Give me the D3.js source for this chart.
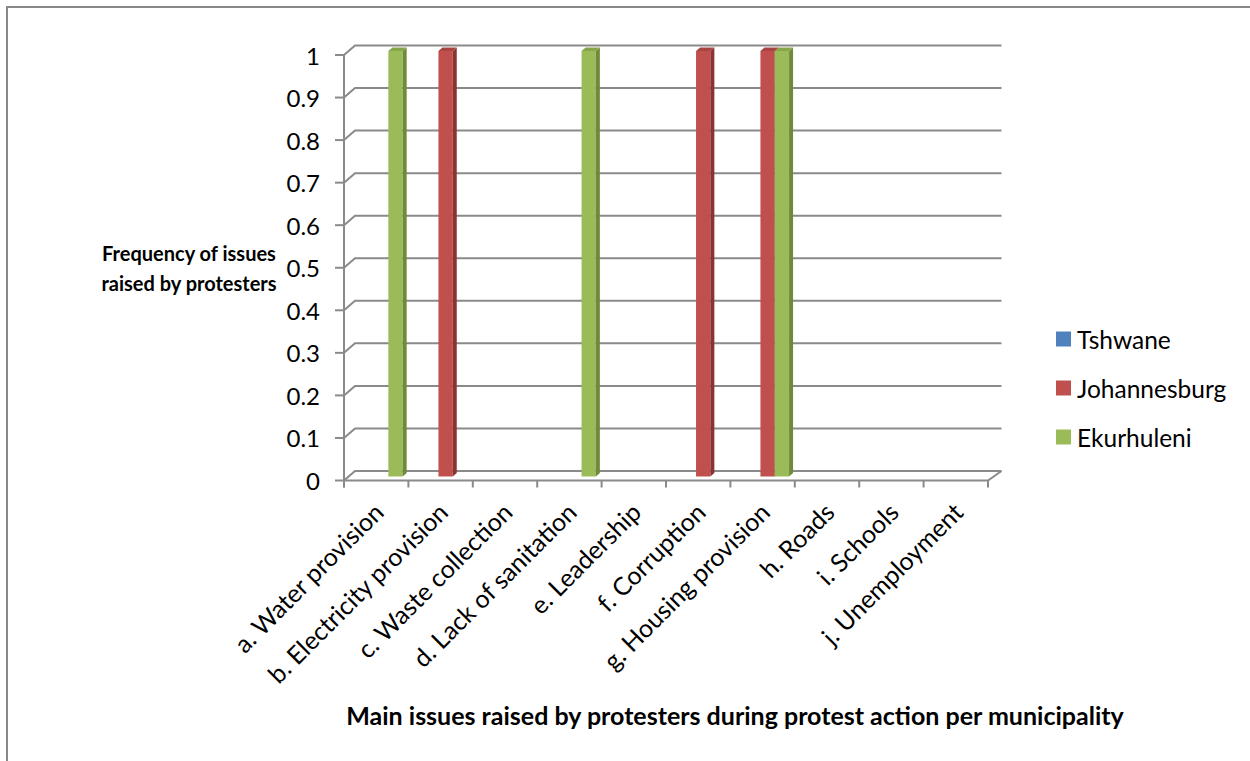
<!DOCTYPE html>
<html>
<head>
<meta charset="utf-8">
<script src="https://cdn.jsdelivr.net/npm/d3@7"></script>
<style>
  html, body { margin: 0; padding: 0; background: #fff; }
  svg { display: block; }
  text { font-family: Lato, "Open Sans", sans-serif; fill: #000; }
</style>
</head>
<body>
<svg id="chart" width="1250" height="761"></svg>
<script>
// Issues raised by protesters, per municipality
const categories = [
  "a. Water provision", "b. Electricity provision", "c. Waste collection",
  "d. Lack of sanitation", "e. Leadership", "f. Corruption",
  "g. Housing provision", "h. Roads", "i. Schools", "j. Unemployment"
];
const seriesNames = ["Tshwane", "Johannesburg", "Ekurhuleni"];
const tshwane      = [0, 0, 0, 0, 0, 0, 0, 0, 0, 0];
const johannesburg = [0, 1, 0, 0, 0, 1, 1, 0, 0, 0];
const ekurhuleni   = [1, 0, 0, 1, 0, 0, 1, 0, 0, 0];
const yTicks = [0, 0.1, 0.2, 0.3, 0.4, 0.5, 0.6, 0.7, 0.8, 0.9, 1];
const yTitle = ["Frequency of issues", "raised by protesters"];
const xTitle = "Main issues raised by protesters during protest action per municipality";

const seriesValues = [tshwane, johannesburg, ekurhuleni];
const palette = {
  Tshwane:      { front: "#4F81BD", side: "#3A6190", top: "#4674AB" },
  Johannesburg: { front: "#C0504D", side: "#8C3331", top: "#A84543" },
  Ekurhuleni:   { front: "#9BBB59", side: "#6F8B3A", top: "#87A64A" }
};

const svg = d3.select("#chart");
const gridColor = "#8a8a8a";

// outer chart border
svg.append("rect")
  .attr("x", 7).attr("y", 7).attr("width", 1270).attr("height", 780)
  .attr("fill", "none").attr("stroke", "#888").attr("stroke-width", 2);

// front plane scales
const x = d3.scaleBand().domain(categories).range([344, 988]).paddingInner(0).paddingOuter(0);
const y = d3.scaleLinear().domain([0, 1]).range([480.5, 55]);
// back wall projection
const backX = d3.scaleLinear().domain([344, 988]).range([355, 1001.5]);
const backDy = -9.5;

const sub = d3.scaleBand().domain(seriesNames).range([0, x.bandwidth()])
  .paddingInner(0).paddingOuter(0.75);

// walls: gridlines on the back wall with their side-wall diagonals
const grid = svg.append("g").attr("stroke", gridColor).attr("stroke-width", 2).attr("fill", "none");
yTicks.forEach(t => {
  const yy = y(t);
  grid.append("path")
    .attr("d", `M344,${yy} L${backX(344)},${yy + backDy} L${backX(988)},${yy + backDy}`);
});

// floor front edge and right diagonal
grid.append("path")
  .attr("d", `M344,${y(0)} L988,${y(0)} L${backX(988)},${y(0) + backDy}`);

// vertical axis with ticks
const axisG = svg.append("g").attr("stroke", gridColor).attr("stroke-width", 2);
axisG.append("line").attr("x1", 344).attr("x2", 344).attr("y1", y(1)).attr("y2", y(0) + 7);
yTicks.forEach(t => {
  axisG.append("line").attr("x1", 335).attr("x2", 344).attr("y1", y(t)).attr("y2", y(t));
});
// category ticks
const catEdges = categories.map(c => x(c)).concat([x.range()[1]]);
catEdges.forEach(e => {
  axisG.append("line").attr("x1", e).attr("x2", e).attr("y1", y(0)).attr("y2", y(0) + 7);
});

// y tick labels
svg.append("g").selectAll("text").data(yTicks).join("text")
  .attr("x", 320).attr("y", d => y(d))
  .attr("text-anchor", "end").attr("dominant-baseline", "central")
  .style("font-size", "24px")
  .text(d => d3.format("")(d));

// 3D bars, placed at mid depth
const barDx = 5, barDy = -4, depthDx = 4, depthDy = -3.5;
const barsG = svg.append("g");
categories.forEach((c, i) => {
  seriesNames.forEach((s, k) => {
    const v = seriesValues[k][i];
    if (!(v > 0)) return;
    const w = sub.bandwidth();
    const x0 = x(c) + sub(s) + barDx;
    const yt = y(v) + barDy;
    const yb = y(0) + barDy;
    const col = palette[s];
    barsG.append("rect").attr("x", x0).attr("y", yt).attr("width", w).attr("height", yb - yt)
      .attr("fill", col.front);
    barsG.append("path")
      .attr("d", `M${x0 + w},${yt} L${x0 + w + depthDx},${yt + depthDy} L${x0 + w + depthDx},${yb + depthDy} L${x0 + w},${yb} Z`)
      .attr("fill", col.side);
    barsG.append("path")
      .attr("d", `M${x0},${yt} L${x0 + depthDx},${yt + depthDy} L${x0 + w + depthDx},${yt + depthDy} L${x0 + w},${yt} Z`)
      .attr("fill", col.top);
  });
});

// rotated category labels
svg.append("g").selectAll("text").data(categories).join("text")
  .attr("text-anchor", "end").attr("dominant-baseline", "central")
  .attr("transform", d => `translate(${x(d) + x.bandwidth() / 2 + 2},${507}) rotate(-45)`)
  .style("font-size", "25px")
  .text(d => d);

// axis titles
const ytl = svg.append("text").attr("text-anchor", "middle")
  .style("font-size", "20px").style("font-weight", "bold");
yTitle.forEach((line, i) => {
  ytl.append("tspan").attr("x", 189).attr("y", 261 + i * 30).text(line);
});
svg.append("text").attr("x", 735).attr("y", 725).attr("text-anchor", "middle")
  .style("font-size", "25px").style("font-weight", "bold").text(xTitle);

// legend
const legend = svg.append("g").selectAll("g").data(seriesNames).join("g")
  .attr("transform", (d, i) => `translate(1056,${339 + i * 49})`);
legend.append("rect").attr("x", 0).attr("y", -7.5).attr("width", 15).attr("height", 15)
  .attr("fill", d => palette[d].front);
legend.append("text").attr("x", 21).attr("y", 0).attr("dominant-baseline", "central")
  .style("font-size", "24.5px").text(d => d);
</script>
</body>
</html>
